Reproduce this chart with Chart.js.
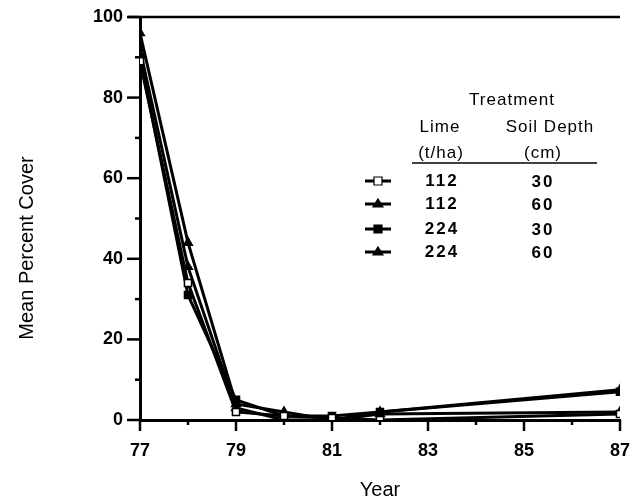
<!DOCTYPE html>
<html>
<head>
<meta charset="utf-8">
<script src="https://cdn.jsdelivr.net/npm/chart.js@4"></script>
<style>
  html, body { margin: 0; padding: 0; background: #fff; }
  #wrap { width: 633px; height: 504px; }
</style>
</head>
<body>
<div id="wrap"><canvas id="chart"></canvas></div>
<script>
// Anos e cobertura média por tratamento
const years = [77, 78, 79, 80, 81, 82, 87];
const lime = [112, 112, 224, 224];
const depth = [30, 60, 30, 60];
const cover112x30 = [89, 34, 2, 1, 0.5, 0, 1.5];
const cover112x60 = [96, 44, 4, 2, 0, 2, 7.5];
const cover224x30 = [90, 31, 5, 1, 1, 2, 7];
const cover224x60 = [92, 38, 3, 0, 0, 1.5, 2];
const yTickLabels = [0, 20, 40, 60, 80, 100];
const xTickLabels = [77, 79, 81, 83, 85, 87];

const FONT = "'Liberation Sans', Arial, Helvetica, sans-serif";
const styles = [
  { pointStyle: "rect", fill: "#fff" },
  { pointStyle: "triangle", fill: "#000" },
  { pointStyle: "rect", fill: "#000" },
  { pointStyle: "triangle", fill: "#000" },
];
const series = [cover112x30, cover112x60, cover224x30, cover224x60];

const datasets = series.map((values, i) => ({
  label: `${lime[i]} / ${depth[i]}`,
  data: values.map((v, j) => ({ x: years[j], y: v })),
  borderColor: "#000",
  borderWidth: 3,
  backgroundColor: styles[i].fill,
  pointStyle: styles[i].pointStyle,
  pointRadius: 5,
  pointBorderWidth: 1.5,
  pointBorderColor: "#000",
  pointBackgroundColor: styles[i].fill,
  tension: 0,
}));

// Desenha marcas dos eixos, títulos e a legenda em forma de tabela
const decorations = {
  id: "decorations",
  afterDraw(chart) {
    const { ctx, chartArea, scales } = chart;
    const x = scales.x, y = scales.y;
    ctx.save();
    ctx.strokeStyle = "#000";
    ctx.fillStyle = "#000";
    ctx.lineWidth = 2.5;

    // linha superior
    ctx.beginPath();
    ctx.moveTo(chartArea.left - 12, chartArea.top);
    ctx.lineTo(chartArea.right, chartArea.top);
    ctx.stroke();

    for (let v = 77; v <= 87; v++) {
      const px = x.getPixelForValue(v);
      const len = xTickLabels.includes(v) ? 11 : 5;
      ctx.beginPath();
      ctx.moveTo(px, chartArea.bottom);
      ctx.lineTo(px, chartArea.bottom + len);
      ctx.stroke();
    }
    for (let v = 0; v <= 100; v += 10) {
      const py = y.getPixelForValue(v);
      const len = yTickLabels.includes(v) ? 13 : 5;
      ctx.beginPath();
      ctx.moveTo(chartArea.left, py);
      ctx.lineTo(chartArea.left - len, py);
      ctx.stroke();
    }

    // títulos dos eixos
    ctx.font = `20px ${FONT}`;
    ctx.textAlign = "center";
    ctx.textBaseline = "middle";
    ctx.fillText("Year", (chartArea.left + chartArea.right) / 2, 490);
    ctx.save();
    ctx.translate(27, 248);
    ctx.rotate(-Math.PI / 2);
    ctx.fillText("Mean Percent Cover", 0, 0);
    ctx.restore();

    // legenda
    ctx.font = `17px ${FONT}`;
    ctx.letterSpacing = "1px";
    ctx.fillText("Treatment", 512, 100);
    ctx.fillText("Lime", 440, 127);
    ctx.fillText("(t/ha)", 441, 153);
    ctx.fillText("Soil Depth", 550, 127);
    ctx.fillText("(cm)", 543, 153);
    ctx.lineWidth = 1.5;
    ctx.beginPath();
    ctx.moveTo(412, 163);
    ctx.lineTo(597, 163);
    ctx.stroke();

    ctx.font = `bold 17px ${FONT}`;
    ctx.letterSpacing = "2px";
    const rows = [181, 204, 229, 252];
    lime.forEach((l, i) => {
      const ry = rows[i];
      ctx.fillStyle = "#000";
      ctx.fillText(String(l), 442, ry);
      ctx.fillText(String(depth[i]), 543, ry + 1);
      ctx.lineWidth = 3;
      ctx.beginPath();
      ctx.moveTo(365, ry);
      ctx.lineTo(391, ry);
      ctx.stroke();
      ctx.lineWidth = 1.2;
      ctx.fillStyle = styles[i].fill;
      ctx.beginPath();
      if (styles[i].pointStyle === "rect") {
        ctx.rect(374, ry - 4, 8, 8);
      } else {
        ctx.moveTo(378, ry - 5);
        ctx.lineTo(383, ry + 3);
        ctx.lineTo(373, ry + 3);
        ctx.closePath();
      }
      ctx.fill();
      ctx.stroke();
    });
    ctx.restore();
  },
};

new Chart(document.getElementById("chart"), {
  type: "line",
  data: { datasets },
  options: {
    responsive: true,
    maintainAspectRatio: false,
    animation: false,
    layout: { padding: { top: 17, right: 13, left: 0, bottom: 0 } },
    plugins: {
      legend: { display: false },
      tooltip: { enabled: false },
    },
    scales: {
      x: {
        type: "linear",
        min: 77,
        max: 87,
        afterFit: (s) => {
          s.height = 84;
          s.paddingLeft = 0;
          s.paddingRight = 0;
        },
        border: { display: true, color: "#000", width: 3 },
        grid: { display: false, drawTicks: false },
        ticks: {
          stepSize: 1,
          autoSkip: false,
          maxRotation: 0,
          padding: 20,
          color: "#000",
          font: { family: FONT, size: 18, weight: "bold" },
          callback: (v) => (xTickLabels.includes(v) ? String(v) : ""),
        },
      },
      y: {
        min: 0,
        max: 100,
        afterFit: (s) => {
          s.width = 140;
          s.paddingTop = 0;
          s.paddingBottom = 0;
        },
        border: { display: true, color: "#000", width: 3 },
        grid: { display: false, drawTicks: false },
        ticks: {
          stepSize: 10,
          autoSkip: false,
          padding: 17,
          color: "#000",
          font: { family: FONT, size: 18, weight: "bold" },
          callback: (v) => (yTickLabels.includes(v) ? String(v) : ""),
        },
      },
    },
  },
  plugins: [decorations],
});
</script>
</body>
</html>
